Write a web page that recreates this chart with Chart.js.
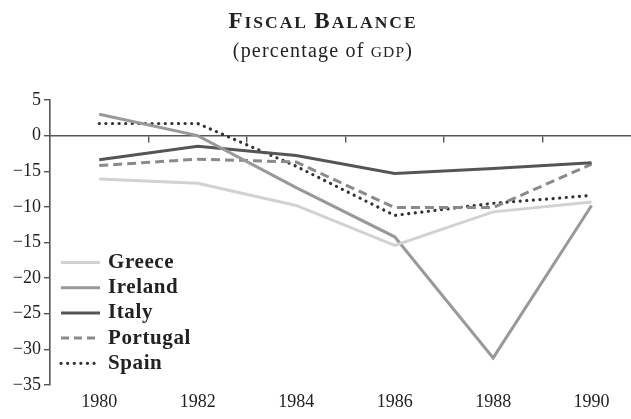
<!DOCTYPE html>
<html>
<head>
<meta charset="utf-8">
<script src="https://cdn.jsdelivr.net/npm/chart.js@4"></script>
<style>
  html, body { margin: 0; padding: 0; background: #fff; }
  #wrap { width: 631px; height: 419px; position: relative; }
</style>
</head>
<body>
<div id="wrap"><canvas id="chart"></canvas></div>
<script>
'use strict';

// ─── 데이터 ────────────────────────────────────────────────────────────
const YEARS    = [1980, 1982, 1984, 1986, 1988, 1990];
const GREECE   = [-6.1, -6.7, -9.8, -15.4, -10.7, -9.3];
const IRELAND  = [3.0, 0.0, -7.3, -14.2, -31.2, -9.8];
const ITALY    = [-3.4, -1.5, -2.8, -5.3, -4.6, -3.8];
const PORTUGAL = [-4.2, -3.3, -3.7, -10.1, -10.1, -4.0];
const SPAIN    = [1.7, 1.7, -4.3, -11.2, -9.5, -8.4];

const Y_TICK_VALUES = [5, 0, -5, -10, -15, -20, -25, -30, -35];
const Y_TICK_LABELS = ['5', '0', '\u221215', '\u221210', '\u221215', '\u221220', '\u221225', '\u221230', '\u221235'];
const X_MID_TICKS   = [1981, 1983, 1985, 1987, 1989];

const TEXT = '#222';
const AXIS = '#555';
const SERIF = '"Liberation Serif", "Times New Roman", serif';

function pts(arr) { return YEARS.map((y, i) => ({ x: y, y: arr[i] })); }

function series(label, arr, color, extra) {
  return Object.assign({
    label, data: pts(arr),
    borderColor: color, backgroundColor: color,
    borderWidth: 3, pointRadius: 0, tension: 0, fill: false
  }, extra || {});
}

// ─── 제목 (small caps 흉내) ──────────────────────────────────────────
const titlePlugin = {
  id: 'fbTitle',
  afterDraw(chart) {
    const ctx = chart.ctx;
    ctx.save();
    ctx.fillStyle = TEXT;
    ctx.textBaseline = 'alphabetic';
    ctx.textAlign = 'left';

    function runs(parts, cx, baseline, spacing) {
      let total = 0;
      parts.forEach(p => { ctx.font = p.f; ctx.letterSpacing = spacing; p.w = ctx.measureText(p.t).width; total += p.w; });
      let x = cx - total / 2;
      parts.forEach(p => { ctx.font = p.f; ctx.letterSpacing = spacing; ctx.fillText(p.t, x, baseline); x += p.w; });
    }

    const big = 'bold 23px ' + SERIF, small = 'bold 17.5px ' + SERIF;
    runs([{ t: 'F', f: big }, { t: 'ISCAL ', f: small }, { t: 'B', f: big }, { t: 'ALANCE', f: small }], 323, 28, '2px');

    const reg = '20px ' + SERIF, sc = '15.5px ' + SERIF;
    runs([{ t: '(percentage of ', f: reg }, { t: 'GDP', f: sc }, { t: ')', f: reg }], 323, 57, '1.2px');
    ctx.restore();
  }
};

// ─── 범례 (차트 영역 안, 좌하단) ───────────────────────────────────────
const legendPlugin = {
  id: 'fbLegend',
  afterDraw(chart) {
    const ctx = chart.ctx;
    ctx.save();
    chart.data.datasets.forEach((ds, i) => {
      const y = 262.5 + i * 25.2;
      ctx.beginPath();
      ctx.strokeStyle = ds.borderColor;
      ctx.lineWidth = ds.borderWidth;
      ctx.lineCap = ds.borderCapStyle || 'butt';
      ctx.setLineDash(ds.legendDash || ds.borderDash || []);
      ctx.moveTo(61, y);
      ctx.lineTo(100, y);
      ctx.stroke();
      ctx.setLineDash([]);
      ctx.fillStyle = TEXT;
      ctx.font = 'bold 21px ' + SERIF;
      ctx.letterSpacing = '0.6px';
      ctx.textBaseline = 'middle';
      ctx.textAlign = 'left';
      ctx.fillText(ds.label, 108, y);
    });
    ctx.restore();
  }
};

const datasets = [
  series('Greece',   GREECE,   '#d2d2d2'),
  series('Ireland',  IRELAND,  '#999999'),
  series('Italy',    ITALY,    '#555555'),
  series('Portugal', PORTUGAL, '#8a8a8a', { borderDash: [9, 5], legendDash: [8, 5] }),
  series('Spain',    SPAIN,    '#333333', { borderDash: [0.1, 6.5], borderCapStyle: 'round', borderWidth: 3.2, legendDash: [0.1, 6.5] })
];

new Chart(document.getElementById('chart'), {
  type: 'line',
  data: { datasets },
  plugins: [titlePlugin, legendPlugin],
  options: {
    responsive: true,
    maintainAspectRatio: false,
    animation: false,
    events: [],
    layout: { padding: { top: 100, left: 0, right: 0, bottom: 0 } },
    plugins: { legend: { display: false }, tooltip: { enabled: false } },
    scales: {
      x: {
        type: 'linear', position: 'bottom', min: 1979, max: 1990.8,
        afterBuildTicks: s => { s.ticks = YEARS.map(v => ({ value: v })); },
        afterFit: s => { s.height = 34; },
        border: { display: false },
        grid: { display: false, drawTicks: false },
        ticks: { color: TEXT, padding: 6, font: { family: SERIF, size: 18 }, callback: v => String(v), maxRotation: 0 }
      },
      x2: {
        type: 'linear', position: { y: 0 }, min: 1979, max: 1990.8,
        afterBuildTicks: s => { s.ticks = X_MID_TICKS.map(v => ({ value: v })); },
        border: { display: true, color: AXIS, width: 1.6 },
        grid: { drawOnChartArea: false, drawTicks: true, tickLength: 6, color: AXIS, lineWidth: 1.4 },
        ticks: { display: false }
      },
      y: {
        type: 'linear', position: 'left', min: -35, max: 5,
        afterBuildTicks: s => { s.ticks = Y_TICK_VALUES.map(v => ({ value: v })); },
        afterFit: s => { s.width = 50; },
        border: { display: true, color: AXIS, width: 1.6 },
        grid: { drawOnChartArea: false, drawTicks: true, tickLength: 6, color: AXIS, lineWidth: 1.4 },
        ticks: {
          color: TEXT, padding: 3, font: { family: SERIF, size: 18 },
          callback: v => Y_TICK_LABELS[Y_TICK_VALUES.indexOf(v)]
        }
      }
    }
  }
});
</script>
</body>
</html>
